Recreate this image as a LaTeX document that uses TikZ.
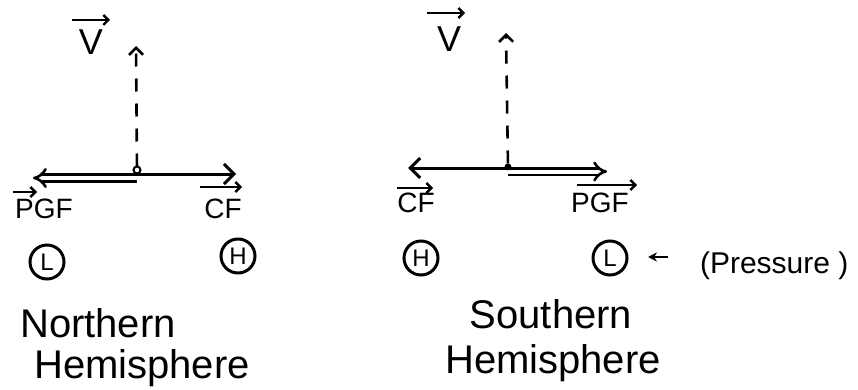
\documentclass[tikz,border=0pt]{standalone}
\usepackage{fontspec}
\setmainfont{Liberation Sans}
\usetikzlibrary{arrows.meta,positioning}

\begin{document}
\begin{tikzpicture}[
        x=1pt, y=-1pt,
        every node/.style={inner sep=0, outer sep=0},
        title/.style={anchor=base, font=\fontsize{40}{44}\selectfont},
        force/.style={anchor=base, font=\fontsize{28}{30}\selectfont},
        vel/.style={anchor=base, font=\fontsize{36}{40}\selectfont},
        centre/.style={circle, draw, line width=3pt, minimum size=34pt, font=\fontsize{24}{26}\selectfont},
        single/.style={line width=3pt, -{Straight Barb[length=10pt, width=20pt]}},
        twin/.style={double, double distance=4pt, line width=2.6pt, -{Implies[scale=1.5]}},
        wind/.style={line width=2.6pt, dash pattern=on 13pt off 12pt, -{Straight Barb[length=7pt, width=14pt]}},
        overbar/.style={line width=2.4pt, -{Straight Barb[length=5pt, width=10pt]}},
        pointer/.style={line width=2.6pt, -{Stealth[length=9pt, width=9pt]}},
    ]
    \useasboundingbox (0,0) rectangle (858,390);

    \node [vel] (velN) at (91,55) {V};
    \node [force] (pgfLblN) at (44,218) {PGF};
    \node [force] (cfLblN) at (223,218) {CF};
    \node [centre] (lowN) at (47,262) {L};
    \node [centre] (highN) at (238,256) {H};
    \node [title] (nameN) at (98,337) {Northern};
    \node [title] (hemiN) at (142,378) {Hemisphere};
    \node [draw, circle, line width=2pt, minimum size=7pt] (dotN) at (137,170) {};

    \coordinate (oN) at (137,178);
    \coordinate (pgfN) at (33,178);
    \coordinate (oNtop) at (137,174);
    \coordinate (cfN) at (236,174);
    \coordinate (vN) at (136,46);
    \draw [twin] (oN) -- (pgfN);
    \draw [single] (oNtop) -- (cfN);
    \draw [wind] (dotN) -- (vN);
    \draw [overbar] (72,20) -- (110,20);
    \draw [overbar] (13,192) -- (37,192);
    \draw [overbar] (200,187) -- (242,187);

    \node [vel] (velS) at (449,52) {V};
    \node [force] (cfLblS) at (416,212) {CF};
    \node [force] (pgfLblS) at (600,212) {PGF};
    \node [centre] (highS) at (421,258) {H};
    \node [centre] (lowS) at (610,258) {L};
    \node [anchor=base west, font=\fontsize{30}{32}\selectfont] (press) at (700,273) {(Pressure )};
    \node [title] (nameS) at (551,328) {Southern};
    \node [title] (hemiS) at (553,373) {Hemisphere};
    \node [fill, circle, minimum size=7pt] (dotS) at (508,167) {};

    \coordinate (oS) at (508,171.5);
    \coordinate (pgfS) at (607,171.5);
    \coordinate (oStop) at (508,168);
    \coordinate (cfS) at (408,168);
    \coordinate (vS) at (506,33);
    \coordinate (ptrS) at (668,257);
    \coordinate (ptrE) at (648,257);
    \draw [twin] (oS) -- (pgfS);
    \draw [single] (oStop) -- (cfS);
    \draw [wind] (dotS) -- (vS);
    \draw [pointer] (ptrS) -- (ptrE);
    \draw [overbar] (427,13) -- (465,13);
    \draw [overbar] (397,188) -- (433,188);
    \draw [overbar] (577,185) -- (637,185);
\end{tikzpicture}
\end{document}
